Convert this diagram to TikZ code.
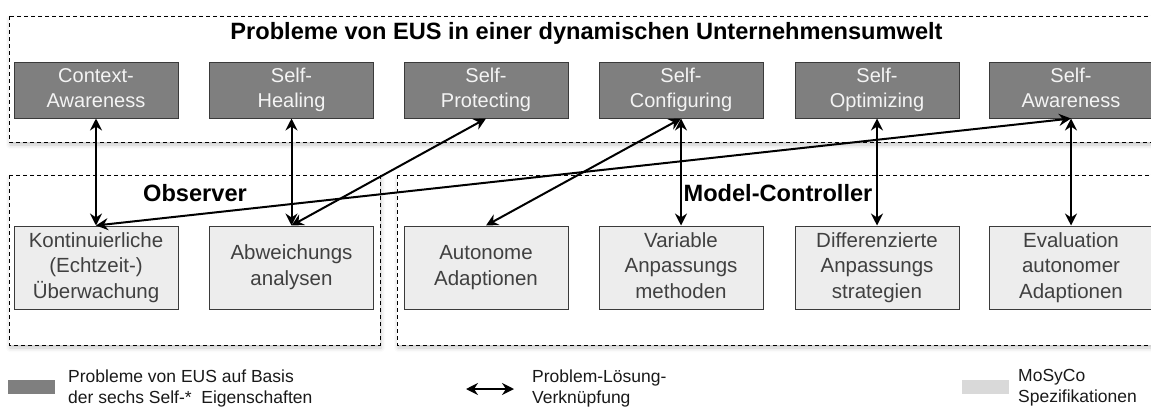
\documentclass[tikz,border=0pt]{standalone}
\usepackage{fontspec}
\setmainfont{Liberation Sans}
\usetikzlibrary{arrows.meta,shadows.blur}

\definecolor{probfill}{HTML}{7F7F7F}
\definecolor{specfill}{HTML}{EDEDED}
\definecolor{legspec}{HTML}{D9D9D9}
\definecolor{boxline}{HTML}{3A3A3A}
\definecolor{spectext}{HTML}{404040}
\definecolor{probtext}{HTML}{F4F4F4}

% one line of box text with a fixed height and depth
\newcommand{\bxl}[1]{\strut#1}

\tikzset{
  frame/.style={draw=black, dash pattern=on 4pt off 3pt, line width=0.9pt, fill=white,
    blur shadow={shadow xshift=1pt, shadow yshift=-3pt, shadow blur radius=4pt, shadow opacity=22}},
  heading/.style={font=\fontsize{23.6}{27}\selectfont\bfseries, text=black, inner sep=0pt},
  prob/.style={draw=boxline, line width=1pt, fill=probfill, text=probtext,
    minimum width=164pt, minimum height=56pt, align=center, inner sep=0pt,
    font=\fontsize{20}{25}\selectfont},
  spec/.style={draw=boxline, line width=1pt, fill=specfill, text=spectext,
    minimum width=164pt, minimum height=83pt, align=center, inner sep=0pt,
    font=\fontsize{20.5}{25.5}\selectfont},
  link/.style={{Stealth[length=12pt,width=12pt,inset=4pt]}-{Stealth[length=12pt,width=12pt,inset=4pt]}, line width=2pt},
  swatch/.style={minimum width=47pt, minimum height=14pt, inner sep=0pt},
  legtext/.style={anchor=west, align=left, inner sep=0pt, text=black!90,
    font=\fontsize{17.5}{21}\selectfont}
}

\begin{document}
\begin{tikzpicture}[x=1pt,y=-1pt]
\useasboundingbox (0,0) rectangle (1151,407);

% dashed group frames
\path[frame] (9,16) rectangle (1170,142);
\path[frame] (9,175) rectangle (380,345);
\path[frame] (397,175) rectangle (1170,345);

% group headings
\node[heading] (ttl) at (586.5,33) {Probleme von EUS in einer dynamischen Unternehmensumwelt};
\node[heading] (obs) at (195,193) {Observer};
\node[heading] (mc)  at (778,193) {Model-Controller};

% Self-* properties
\node[prob] (ca) at (96,90)    {\bxl{Context-}\\\bxl{Awareness}};
\node[prob] (sh) at (291.5,90) {\bxl{Self-}\\\bxl{Healing}};
\node[prob] (sp) at (486,90)   {\bxl{Self-}\\\bxl{Protecting}};
\node[prob] (sc) at (681,90)   {\bxl{Self-}\\\bxl{Configuring}};
\node[prob] (so) at (877,90)   {\bxl{Self-}\\\bxl{Optimizing}};
\node[prob] (sa) at (1071,90)  {\bxl{Self-}\\\bxl{Awareness}};

% MoSyCo specifications
\node[spec] (ku) at (96,267.5)    {\bxl{Kontinuierliche}\\\bxl{(Echtzeit-)}\\\bxl{Überwachung}};
\node[spec] (ab) at (291.5,267.5) {\bxl{Abweichungs}\\\bxl{analysen}};
\node[spec] (au) at (486,267.5)   {\bxl{Autonome}\\\bxl{Adaptionen}};
\node[spec] (va) at (681,267.5)   {\bxl{Variable}\\\bxl{Anpassungs}\\\bxl{methoden}};
\node[spec] (di) at (877,267.5)   {\bxl{Differenzierte}\\\bxl{Anpassungs}\\\bxl{strategien}};
\node[spec] (ev) at (1071,267.5)  {\bxl{Evaluation}\\\bxl{autonomer}\\\bxl{Adaptionen}};

% problem-solution links
\draw[link] (ca.south) -- (ku.north);
\draw[link] (sh.south) -- (ab.north);
\draw[link] (sp.south) -- (ab.north);
\draw[link] (sc.south) -- (au.north);
\draw[link] (sc.south) -- (va.north);
\draw[link] (so.south) -- (di.north);
\draw[link] (sa.south) -- (ev.north);
\draw[link] (sa.south) -- (ku.north);

% legend
\node[swatch, fill=probfill] (lg1) at (31.5,387) {};
\node[legtext] (lt1) at (68,388) {Probleme von EUS auf Basis\\der sechs Self-*~ Eigenschaften};
\coordinate (la) at (466,389);
\coordinate (lb) at (514,389);
\draw[link, line width=2.4pt] (la) -- (lb);
\node[legtext] (lt2) at (532,388) {Problem-Lösung-\\Verknüpfung};
\node[swatch, fill=legspec] (lg2) at (985,387) {};
\node[legtext] (lt3) at (1018,388) {MoSyCo\\Spezifikationen};
\end{tikzpicture}
\end{document}
